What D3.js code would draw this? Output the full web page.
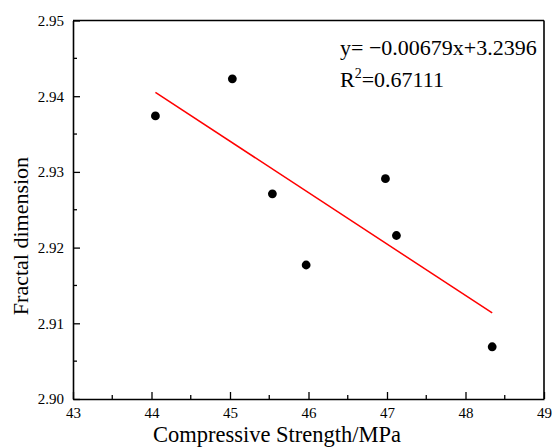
<!DOCTYPE html>
<html>
<head>
<meta charset="utf-8">
<script src="https://cdn.jsdelivr.net/npm/d3@7"></script>
<style>
  body { margin: 0; background: #fff; }
  svg text { font-family: "Liberation Serif", "Times New Roman", serif; fill: #000; }
</style>
</head>
<body>
<div id="chart"></div>
<script>
// Data
const strength = [44.05, 45.03, 45.54, 45.97, 46.98, 47.12, 48.34];
const fractalDim = [2.9374, 2.9423, 2.9271, 2.9177, 2.9291, 2.9216, 2.9069];
const slope = -0.00679;
const intercept = 3.2396;
const xTicks = [43, 44, 45, 46, 47, 48, 49];
const yTicks = [2.90, 2.91, 2.92, 2.93, 2.94, 2.95];
const eqText = "y= \u22120.00679x+3.2396";
const r2Text = "0.67111";

const W = 552, H = 448;
const margin = { top: 20.5, right: 8, bottom: 49, left: 73 };
const width = W - margin.left - margin.right;
const height = H - margin.top - margin.bottom;
const serif = '"Liberation Serif", "Times New Roman", serif';

const svg = d3.select('#chart')
    .append('svg')
    .attr('width', W)
    .attr('height', H);

const g = svg.append('g')
    .attr('transform', `translate(${margin.left},${margin.top})`);

// Scales
const x = d3.scaleLinear().domain([43, 49]).range([0, width]);
const y = d3.scaleLinear().domain([2.90, 2.95]).range([height, 0]);

// Minor ticks (inside)
const xMinor = d3.range(43.5, 49, 1);
const yMinor = d3.range(2.905, 2.95, 0.01);

g.selectAll('.x-minor').data(xMinor).enter().append('line')
    .attr('x1', d => x(d)).attr('x2', d => x(d))
    .attr('y1', height).attr('y2', height - 4)
    .attr('stroke', '#000').attr('stroke-width', 1.3);
g.selectAll('.y-minor').data(yMinor).enter().append('line')
    .attr('x1', 0).attr('x2', 4)
    .attr('y1', d => y(d)).attr('y2', d => y(d))
    .attr('stroke', '#000').attr('stroke-width', 1.3);

// Axes with inward ticks
const xAxis = d3.axisBottom(x).tickValues(xTicks).tickSizeInner(-7).tickSizeOuter(0).tickPadding(8)
    .tickFormat(d3.format('d'));
const yAxis = d3.axisLeft(y).tickValues(yTicks).tickSizeInner(-7).tickSizeOuter(0).tickPadding(9)
    .tickFormat(d3.format('.2f'));

const gx = g.append('g')
    .attr('transform', `translate(0,${height})`)
    .call(xAxis);
const gy = g.append('g').call(yAxis);

[gx, gy].forEach(a => {
    a.attr('font-family', serif).attr('font-size', 15);
    a.select('.domain').attr('stroke', '#000').attr('stroke-width', 1.6);
    a.selectAll('.tick line').attr('stroke', '#000').attr('stroke-width', 1.3);
    a.selectAll('.tick text').attr('fill', '#000');
});

// Frame top and right
g.append('line').attr('x1', 0).attr('x2', width).attr('y1', 0).attr('y2', 0)
    .attr('stroke', '#000').attr('stroke-width', 1.6);
g.append('line').attr('x1', width).attr('x2', width).attr('y1', 0).attr('y2', height)
    .attr('stroke', '#000').attr('stroke-width', 1.6);

// Fit line
const xMin = d3.min(strength), xMax = d3.max(strength);
g.append('line')
    .attr('x1', x(xMin)).attr('y1', y(slope * xMin + intercept))
    .attr('x2', x(xMax)).attr('y2', y(slope * xMax + intercept))
    .attr('stroke', '#ff0000').attr('stroke-width', 1.5);

// Points
g.selectAll('.dot')
    .data(strength.map((d, i) => ({ x: d, y: fractalDim[i] })))
    .enter().append('circle')
    .attr('class', 'dot')
    .attr('cx', d => x(d.x))
    .attr('cy', d => y(d.y))
    .attr('r', 4.4)
    .attr('fill', '#000');

// Equation
svg.append('text')
    .attr('x', 340).attr('y', 55)
    .style('font-size', '22px')
    .text(eqText);
const r2 = svg.append('text')
    .attr('x', 340).attr('y', 87)
    .style('font-size', '22px');
r2.append('tspan').text('R');
r2.append('tspan').attr('dy', -9).style('font-size', '14px').text('2');
r2.append('tspan').attr('dy', 9).text('=' + r2Text);

// Axis titles
svg.append('text')
    .attr('x', 277).attr('y', 442)
    .attr('text-anchor', 'middle')
    .style('font-size', '22.5px')
    .text('Compressive Strength/MPa');
svg.append('text')
    .attr('transform', 'translate(28,236) rotate(-90)')
    .attr('text-anchor', 'middle')
    .style('font-size', '22px')
    .text('Fractal dimension');
</script>
</body>
</html>
